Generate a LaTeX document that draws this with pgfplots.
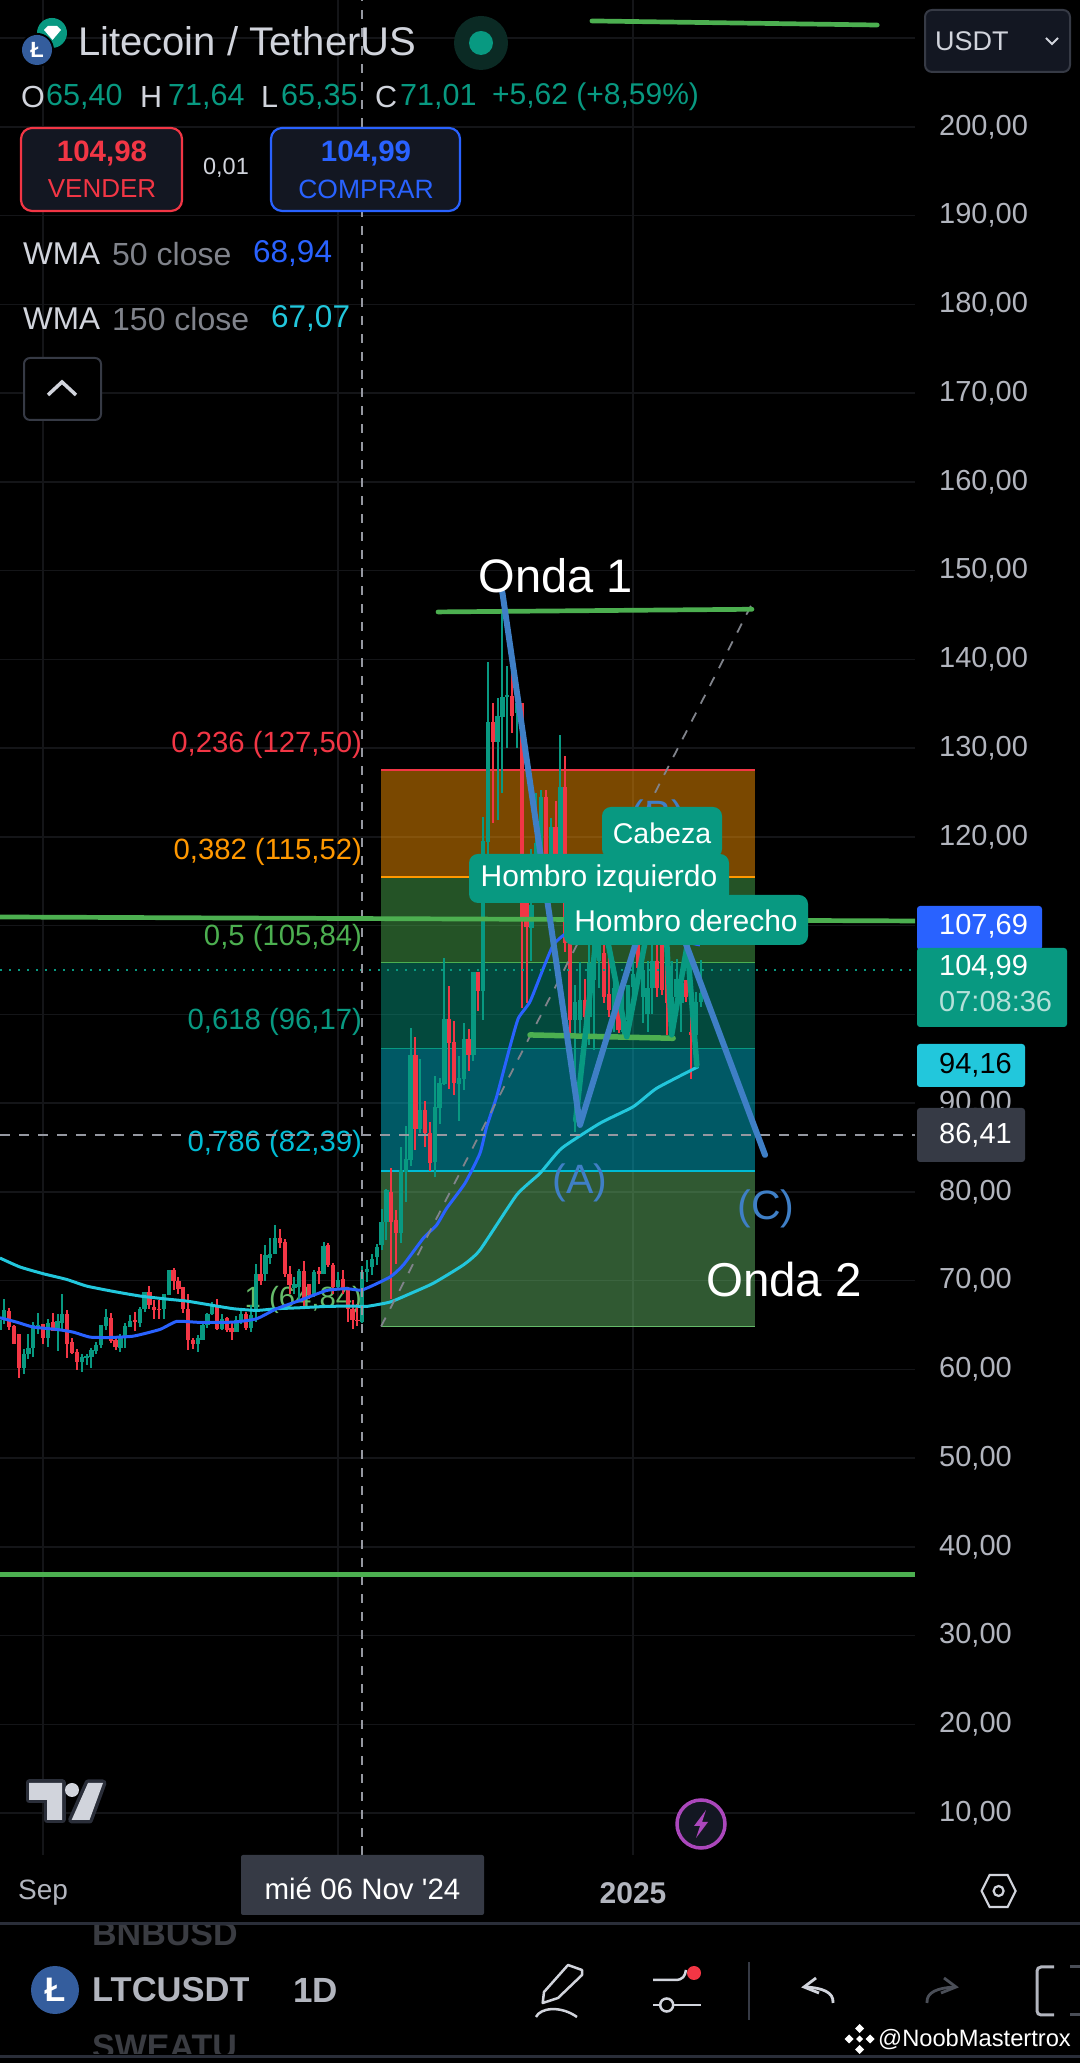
\documentclass[border=0pt]{standalone}
\usepackage{pgfplots}
\usepackage{pgfplotstable}
\usepackage{fontspec}
\setmainfont{Liberation Sans}
\newfontfamily\plainf{Liberation Sans}
\pgfplotsset{compat=1.18}
\newcommand\fs[1]{\fontsize{#1}{#1}\selectfont}
\definecolor{tvred}{HTML}{F23645}
\definecolor{tvteal}{HTML}{089981}
\definecolor{tvblue}{HTML}{2962FF}
\definecolor{tvcyan}{HTML}{22C7DC}
\definecolor{tvgrey}{HTML}{B2B5BE}
\definecolor{tvlight}{HTML}{D1D4DC}
\definecolor{tvdark}{HTML}{363A45}
\definecolor{tvpanel}{HTML}{131722}
\definecolor{tvsep}{HTML}{2A2E39}
\definecolor{gridc}{HTML}{141518}
\definecolor{wave}{HTML}{3F7FC6}
\definecolor{drawgreen}{HTML}{4CAF50}
\definecolor{fiborange}{HTML}{FF9800}
\definecolor{fibcyan}{HTML}{00BCD4}
\definecolor{fiblight}{HTML}{66BB6A}
\definecolor{ltcblue}{HTML}{345D9D}
\definecolor{halo}{HTML}{0B2A24}
\definecolor{boltc}{HTML}{AB47BC}
\definecolor{closegrey}{HTML}{80838B}
\definecolor{fadegrey}{HTML}{3A3C42}
\definecolor{dashgrey}{HTML}{9598A1}
\definecolor{trendgrey}{HTML}{80838B}
\definecolor{redogrey}{HTML}{4A4E57}

\pgfplotstableread{
d o h l c
-9 64.39 65.90 63.64 65.52
-8 65.71 67.96 65.15 66.65
-4 60.18 62.33 59.43 61.76
-3 61.69 63.94 61.20 62.44
-2 62.44 65.33 61.39 64.96
-1 64.58 66.40 64.02 65.03
1 63.57 65.71 62.51 65.22
3 64.28 66.27 62.06 65.45
4 65.22 68.53 64.47 66.20
8 60.82 61.69 59.69 61.39
9 61.31 61.69 60.45 61.54
10 61.39 62.44 60.18 62.14
11 62.06 63.08 61.69 62.70
12 62.70 64.96 62.44 64.96
13 64.84 66.76 64.39 65.90
16 62.44 64.02 61.95 63.57
17 63.57 65.22 62.44 64.84
18 64.77 66.09 64.77 65.45
20 65.22 67.03 64.77 66.84
21 66.84 68.72 66.46 68.72
25 66.84 68.53 65.71 68.53
26 68.34 71.16 68.34 71.16
32 62.81 63.83 61.95 63.57
33 63.34 65.22 63.34 64.96
34 64.96 66.35 64.69 66.27
35 66.20 67.59 66.09 67.21
37 64.58 66.20 64.47 65.71
40 64.20 65.97 64.20 65.60
41 65.60 66.65 65.07 66.20
43 64.69 67.21 64.20 66.09
44 66.46 71.91 65.33 70.79
46 70.79 73.98 69.96 72.85
47 72.59 74.84 71.91 73.04
48 73.04 76.24 73.04 74.84
52 69.21 70.41 68.45 69.66
53 69.28 71.35 67.78 71.09
56 68.34 71.24 68.15 70.97
58 70.71 74.36 70.71 73.87
61 69.28 70.97 69.09 70.11
66 65.40 71.64 65.35 71.01
67 70.97 72.29 69.84 71.35
68 71.54 73.04 70.60 72.48
69 72.66 74.17 71.72 73.79
70 73.98 78.12 73.42 76.61
71 76.61 80.37 74.54 80.18
74 75.37 85.03 74.24 82.47
75 82.28 87.43 78.90 83.67
76 83.60 98.43 82.92 95.43
78 87.05 94.94 86.60 89.23
81 83.41 93.06 81.65 89.53
82 89.50 92.80 87.65 92.24
83 92.16 106.40 92.05 99.50
86 92.16 95.32 87.99 92.80
87 92.76 98.98 91.50 97.19
89 95.43 104.82 94.79 104.82
91 102.68 122.25 99.37 119.54
92 119.47 139.67 117.80 132.91
94 130.73 135.62 121.91 133.63
95 133.55 145.20 124.99 135.73
96 135.73 139.26 130.06 135.99
98 133.93 135.05 130.06 135.05
101 109.70 118.60 106.00 112.30
102 113.50 124.90 113.00 119.30
103 113.50 125.30 113.00 124.54
105 113.50 122.10 113.00 121.08
107 114.00 131.49 113.50 125.67
110 99.37 103.30 86.79 101.36
111 99.37 105.95 97.87 101.63
113 99.75 108.00 96.50 105.76
114 103.88 112.00 96.00 108.00
115 106.00 112.00 103.00 108.00
118 100.50 106.00 98.00 103.00
120 98.00 103.30 97.50 100.00
121 99.37 103.30 97.50 103.30
122 103.13 107.60 102.00 104.60
124 102.00 109.00 99.00 105.00
125 100.00 106.00 98.00 103.00
126 103.00 109.00 100.00 106.00
130 98.00 106.00 97.70 102.00
131 102.00 106.30 101.25 104.00
132 101.25 104.44 98.00 103.50
135 97.70 102.57 97.00 101.44
136 101.44 106.13 100.80 102.40
}\greencandles

\pgfplotstableread{
d o h l c
-7 66.57 66.91 64.39 64.77
-6 64.84 64.96 62.89 62.89
-5 63.94 63.94 59.05 60.18
0 65.07 65.15 62.89 63.57
2 65.33 66.38 64.32 64.32
5 66.20 66.72 61.31 62.89
6 63.08 63.57 61.69 61.84
7 61.95 62.33 59.88 60.82
14 65.82 66.35 62.97 63.19
15 63.34 63.72 62.14 62.51
19 65.52 66.46 64.32 65.33
22 68.72 69.36 66.84 67.21
23 67.03 67.78 65.71 66.65
24 66.84 67.78 65.71 66.65
27 71.16 71.46 68.90 69.96
28 69.96 70.41 68.53 69.09
29 69.28 69.28 66.35 66.84
30 66.84 68.53 62.14 63.34
31 63.34 63.57 62.33 62.81
36 67.21 67.96 64.47 64.58
38 65.82 65.90 64.20 64.47
39 64.69 65.22 63.27 64.20
42 66.20 66.46 64.39 64.69
45 70.79 73.04 69.47 69.96
49 74.84 75.86 73.72 74.24
50 74.36 74.73 70.41 70.71
51 70.71 71.61 68.53 69.47
54 71.09 72.21 66.84 67.96
55 69.58 69.66 67.96 68.34
57 71.09 71.54 69.66 70.71
59 73.98 74.24 71.54 71.72
60 71.72 71.99 68.53 69.28
62 70.22 71.24 68.53 68.90
63 69.21 69.28 65.33 66.84
64 66.84 67.78 64.58 65.52
65 65.60 67.33 64.84 65.45
72 80.00 82.74 67.97 76.61
73 76.80 77.93 71.91 75.37
77 95.43 97.49 84.73 87.05
79 89.23 90.21 85.10 86.60
80 86.60 87.92 82.40 83.30
84 99.50 103.20 91.60 96.82
85 96.90 99.26 90.92 92.24
88 97.19 98.32 93.66 95.43
90 104.82 104.82 100.42 102.68
93 132.91 135.05 121.53 130.73
97 135.88 138.43 131.75 133.63
99 135.05 135.05 100.73 110.50
100 112.90 115.20 101.30 109.80
104 124.54 125.30 113.00 113.50
106 121.08 124.05 113.00 113.50
108 125.59 129.12 107.00 108.00
109 108.00 110.00 97.87 99.37
112 101.63 103.95 96.74 99.75
116 106.88 110.00 101.25 102.00
117 102.30 108.00 99.75 100.50
119 100.50 103.00 97.87 98.25
123 107.80 110.00 104.80 105.20
127 106.00 109.00 102.00 103.00
128 108.00 110.00 102.20 102.75
129 108.00 112.00 97.70 101.25
133 103.90 103.90 101.40 102.00
134 98.05 104.44 92.70 97.70
}\redcandles

\begin{document}
\begin{tikzpicture}
\useasboundingbox (0,0) rectangle (1080pt,2063pt);
\fill[black] (0,0) rectangle (1080pt,2063pt);
\begin{axis}[
  at={(0pt,208pt)}, anchor=south west,
  scale only axis, width=915pt, height=1855pt,
  xmin=-8.892, xmax=180.31, ymin=5.29, ymax=214.30,
  axis line style={draw=none},
  major tick length=0pt,
  grid=major, grid style={draw=gridc, line width=1.6pt},
  ytick={10,20,...,210},
  xtick={0,61,122}, xticklabels={Sep,,{\fs{30}\bfseries 2025}},
  ytick pos=right, xtick pos=bottom,
  tick label style={font=\fs{29}, text=tvgrey},
  yticklabel style={/pgf/number format/.cd, fixed, fixed zerofill, precision=2, use comma, 1000 sep={}, assume math mode=true,
     /tikz/.cd, inner sep=0pt, anchor=west, xshift=24pt},
  xticklabel style={font=\fs{28}, inner sep=0pt, anchor=center, yshift=-38pt},
  clip=true,
]
% fibonacci zones
\addplot[draw=none, fill=fiborange, fill opacity=.48] coordinates {(69.9,127.50)(147.2,127.50)(147.2,115.52)(69.9,115.52)(69.9,127.50)};
\addplot[draw=none, fill=drawgreen, fill opacity=.48] coordinates {(69.9,115.52)(147.2,115.52)(147.2,105.84)(69.9,105.84)(69.9,115.52)};
\addplot[draw=none, fill=tvteal, fill opacity=.48] coordinates {(69.9,105.84)(147.2,105.84)(147.2,96.17)(69.9,96.17)(69.9,105.84)};
\addplot[draw=none, fill=fibcyan, fill opacity=.48] coordinates {(69.9,96.17)(147.2,96.17)(147.2,82.39)(69.9,82.39)(69.9,96.17)};
\addplot[draw=none, fill=fiblight, fill opacity=.48] coordinates {(69.9,82.39)(147.2,82.39)(147.2,64.84)(69.9,64.84)(69.9,82.39)};
\addplot[tvred, line width=1.8pt] coordinates {(69.9,127.50)(147.2,127.50)};
\addplot[fiborange, line width=1.8pt] coordinates {(69.9,115.52)(147.2,115.52)};
\addplot[drawgreen, line width=1.8pt] coordinates {(69.9,105.84)(147.2,105.84)};
\addplot[tvteal, line width=1.8pt] coordinates {(69.9,96.17)(147.2,96.17)};
\addplot[fibcyan, line width=1.8pt] coordinates {(69.9,82.39)(147.2,82.39)};
\addplot[fiblight, line width=1.8pt] coordinates {(69.9,64.84)(147.2,64.84)};
% fib labels
\node[anchor=east, inner sep=0pt, text=tvred, font=\fs{29.3}] at (axis cs:66,130.36) {0,236 (127,50)};
\node[anchor=east, inner sep=0pt, text=fiborange, font=\fs{29.3}] at (axis cs:66,118.3) {0,382 (115,52)};
\node[anchor=east, inner sep=0pt, text=drawgreen, font=\fs{29.3}] at (axis cs:66,108.6) {0,5 (105,84)};
\node[anchor=east, inner sep=0pt, text=tvteal, font=\fs{29.3}] at (axis cs:66,99.15) {0,618 (96,17)};
\node[anchor=east, inner sep=0pt, text=fibcyan, font=\fs{29.3}] at (axis cs:66,85.45) {0,786 (82,39)};
\node[anchor=east, inner sep=0pt, text=fiblight, font=\fs{29.3}] at (axis cs:66,67.85) {1 (64,84)};
% candles: wicks then bodies
\addplot[draw=none, mark=none, forget plot, error bars/.cd, y dir=both, y explicit, error mark=none, error bar style={draw=tvteal, line width=2pt}]
  table[x=d, y=o, y error plus expr=\thisrow{h}-\thisrow{o}, y error minus expr=\thisrow{o}-\thisrow{l}] {\greencandles};
\addplot[draw=none, mark=none, forget plot, error bars/.cd, y dir=both, y explicit, error mark=none, error bar style={draw=tvred, line width=2pt}]
  table[x=d, y=o, y error plus expr=\thisrow{h}-\thisrow{o}, y error minus expr=\thisrow{o}-\thisrow{l}] {\redcandles};
\addplot[draw=none, mark=none, forget plot, error bars/.cd, y dir=plus, y explicit, error mark=none, error bar style={draw=tvteal, line width=4.3pt}]
  table[x=d, y=o, y error plus expr=\thisrow{c}-\thisrow{o}] {\greencandles};
\addplot[draw=none, mark=none, forget plot, error bars/.cd, y dir=minus, y explicit, error mark=none, error bar style={draw=tvred, line width=4.3pt}]
  table[x=d, y=o, y error minus expr=\thisrow{o}-\thisrow{c}] {\redcandles};
% WMA 150
\addplot[tvcyan, line width=3pt, smooth, tension=.3] coordinates {(-8.9,72.55)(-4.75,71.54)(0.07,70.78)(4.9,70.14)(9.03,69.39)(14.54,68.79)(20.06,68.27)(25.57,67.93)(29.7,67.7)(33.84,67.33)(39.36,66.84)(44.18,66.65)(48.3,66.84)(53.14,66.95)(58.66,67.1)(64.17,67.14)(66.93,67.1)(71.75,67.59)(75.89,68.53)(80.7,69.71)(86.91,71.77)(90.36,73.46)(97.94,79.66)(102.77,82.1)(107.25,84.92)(115.17,87.74)(122.07,89.61)(126.89,91.68)(135.5,94.12)};
% WMA 50
\addplot[tvblue, line width=3pt, smooth, tension=.3] coordinates {(-8.9,65.82)(-5.45,65.33)(-2,64.77)(2.83,64.51)(6.27,64.2)(9.72,63.64)(13.86,63.6)(18.68,63.75)(24.2,64.51)(27.64,65.41)(32.47,65.3)(39.36,65.33)(44.18,65.71)(48.3,66.84)(53.14,67.78)(58.66,68.9)(62.8,69.1)(66.03,68.96)(71.75,70.41)(74.5,71.77)(78.64,74.78)(81.4,76.28)(83.47,78.16)(87.26,80.98)(90.36,84.36)(91.74,87.36)(93.81,90.74)(96.56,96.37)(98.29,99.57)(100.7,101.44)(103.46,105.2)(105.52,107.83)(108.28,109.14)(115,110)(125,109)(135.85,107.83)};
% crosshair and last price
\addplot[tvteal, line width=2pt, dash pattern=on 2pt off 7pt] coordinates {(-8.892,104.99)(180.31,104.99)};
\addplot[dashgrey, line width=2pt, dash pattern=on 10pt off 9pt] coordinates {(-8.892,86.41)(180.31,86.41)};
\addplot[dashgrey, line width=2pt, dash pattern=on 9pt off 9pt] coordinates {(66,5.29)(66,214.3)};
% fib trend line
\addplot[trendgrey, line width=1.8pt, dash pattern=on 10pt off 10pt] coordinates {(69.9,64.84)(147.1,146.8)};
% drawn green lines
\addplot[drawgreen, line width=4.7pt, line cap=round] coordinates {(113.5,211.94)(172.5,211.48)};
\addplot[drawgreen, line width=4.7pt, line cap=round] coordinates {(81.68,145.35)(146.6,145.65)};
\addplot[drawgreen, line width=4.7pt] coordinates {(-8.892,110.98)(180.31,110.53)};
\addplot[drawgreen, line width=4.7pt] coordinates {(-8.892,36.87)(180.31,36.87)};
\addplot[drawgreen, line width=5.5pt, line cap=round] coordinates {(100.7,97.69)(130.3,97.31)};
% head and shoulders
\addplot[tvteal, line width=5.5pt, line join=round, line cap=round] coordinates {(110.15,88.1)(115.2,112.56)(120.7,97.49)(128,117.97)(130,97.7)(133.2,107.8)(135.2,94.3)};
% elliott wave
\addplot[wave, line width=6pt, line join=round, line cap=round] coordinates {(94.98,147.57)(111.04,87.55)(127.2,116.28)(149.3,84.17)};
% wave labels
\node[text=wave, font=\fs{41}, inner sep=0pt] at (axis cs:127.1,122) {(B)};
\node[text=wave, font=\fs{41}, inner sep=0pt] at (axis cs:111,81) {(A)};
\node[text=wave, font=\fs{41}, inner sep=0pt] at (axis cs:149.5,78.05) {(C)};
\end{axis}

\begin{scope}[yshift=2063pt, x=1pt, y=-1pt]
\tikzset{t/.style={inner sep=0pt, anchor=west}, c/.style={inner sep=0pt, anchor=center}}
% chart annotation labels
\node[c, text=white, font=\fs{47}] at (556,575.5) {Onda 1};
\node[c, text=white, font=\fs{47.5}] at (784,1280) {Onda 2};
\fill[tvteal, rounded corners=9pt] (602,807) rectangle (722,858);
\node[c, text=white, font=\fs{28.5}] at (662,833) {Cabeza};
\fill[tvteal, rounded corners=9pt] (469,854) rectangle (729,903);
\node[c, text=white, font=\fs{30}] at (599,879) {Hombro izquierdo};
\fill[tvteal, rounded corners=9pt] (564,895) rectangle (808,945);
\node[c, text=white, font=\fs{30}] at (686,921) {Hombro derecho};
% header
\fill[tvteal] (52,33) circle (15);
\fill[white] (44,30) -- (48,26) -- (57,26) -- (61,30) -- (52.5,40) -- cycle;
\fill[black] (37,50) circle (17);
\fill[ltcblue] (37,50) circle (15);
\node[c, text=white, font=\fs{22}\bfseries] at (37,50) {Ł};
\node[t, text=tvlight, font=\fs{40}] at (78,41) {Litecoin / TetherUS};
\fill[halo] (481,43) circle (27);
\fill[tvteal] (481,43) circle (12);
% OHLC
\node[t, text=tvlight, font=\fs{30.5}] at (21,97) {O};
\node[t, text=tvteal, font=\fs{30.5}] at (46,97) {65,40};
\node[t, text=tvlight, font=\fs{30.5}] at (140,97) {H};
\node[t, text=tvteal, font=\fs{30.5}] at (168,97) {71,64};
\node[t, text=tvlight, font=\fs{30.5}] at (261,97) {L};
\node[t, text=tvteal, font=\fs{30.5}] at (281,97) {65,35};
\node[t, text=tvlight, font=\fs{30.5}] at (375,97) {C};
\node[t, text=tvteal, font=\fs{30.5}] at (400,97) {71,01};
\node[t, text=tvteal, font=\fs{30}] at (492,97) {+5,62 (+8,59\%)};
% buy and sell
\draw[tvred, line width=2.2pt, fill=tvpanel, rounded corners=11pt] (21,128) rectangle (182,211);
\node[c, text=tvred, font=\fs{29.5}\bfseries] at (102,154) {104,98};
\node[c, text=tvred, font=\fs{26}] at (102,189) {VENDER};
\node[c, text=tvlight, font=\fs{23.5}] at (226,168) {0,01};
\draw[tvblue, line width=2.2pt, fill=tvpanel, rounded corners=11pt] (271,128) rectangle (460,211);
\node[c, text=tvblue, font=\fs{29.5}\bfseries] at (366,154) {104,99};
\node[c, text=tvblue, font=\fs{26.5}] at (366,189) {COMPRAR};
% legend
\node[t, text=tvlight, font=\fs{31.5}] at (23,254) {WMA};
\node[t, text=closegrey, font=\fs{32}] at (112,254) {50 close};
\node[t, text=tvblue, font=\fs{31.5}] at (253,254) {68,94};
\node[t, text=tvlight, font=\fs{31.5}] at (23,319) {WMA};
\node[t, text=closegrey, font=\fs{32}] at (112,319) {150 close};
\node[t, text=tvcyan, font=\fs{31.5}] at (271,319) {67,07};
\draw[tvdark, line width=2pt, fill=black, rounded corners=6pt] (24,358) rectangle (101,420);
\draw[tvlight, line width=3.5pt] (48,395) -- (62,382) -- (76,395);
% currency button
\draw[tvdark, line width=2pt, fill=tvpanel, rounded corners=7pt] (925,10) rectangle (1070,72);
\node[t, text=tvlight, font=\fs{27}] at (935,41) {USDT};
\draw[tvlight, line width=2pt] (1046,38) -- (1052,44) -- (1058,38);
% price tags
\fill[tvblue, rounded corners=3pt] (917,906) rectangle (1042,950);
\node[t, text=white, font=\fs{29}] at (939,926) {107,69};
\fill[tvteal, rounded corners=3pt] (917,948) rectangle (1067,1027);
\node[t, text=white, font=\fs{29}] at (939,967) {104,99};
\node[t, text=white!70!tvteal, font=\fs{29}] at (939,1002) {07:08:36};
\fill[tvcyan, rounded corners=3pt] (917,1044) rectangle (1025,1087);
\node[t, text=black, font=\fs{29}] at (939,1065) {94,16};
\fill[tvdark, rounded corners=3pt] (917,1108) rectangle (1025,1162);
\node[t, text=white, font=\fs{29}] at (939,1135) {86,41};
% tradingview logo
\begin{scope}
\tikzset{lg/.style={draw=tvsep, line width=7pt, line join=round, fill=tvlight}}
\filldraw[lg] (29,1783) -- (62,1783) -- (62,1820) -- (47,1820) -- (47,1800) -- (29,1800) -- cycle;
\filldraw[lg] (88,1783) -- (103,1783) -- (89.5,1820) -- (71.6,1820) -- cycle;
\fill[tvlight] (29,1783) -- (62,1783) -- (62,1820) -- (47,1820) -- (47,1800) -- (29,1800) -- cycle;
\fill[tvlight] (88,1783) -- (103,1783) -- (89.5,1820) -- (71.6,1820) -- cycle;
\fill[tvlight] (72,1790) circle (7);
\end{scope}
% bolt
\draw[boltc, line width=3.5pt, fill=tvpanel] (701,1824) circle (24);
\fill[boltc] (706,1810) -- (694,1826) -- (700,1826) -- (696,1838) -- (708,1822) -- (702,1822) -- cycle;
% time tooltip
\fill[tvdark, rounded corners=2pt] (241,1855) rectangle (484,1915);
\node[c, text=white, font=\plainf\fs{29.5}] at (362.5,1889) {mié 06 Nov '24};
% settings hex
\draw[tvlight, line width=2.2pt] (981.6,1891) -- (989.6,1875) -- (1007.6,1875) -- (1015.6,1891) -- (1007.6,1907) -- (989.6,1907) -- cycle;
\draw[tvlight, line width=2.2pt] (998.6,1891) circle (5);
% toolbar
\begin{scope}
\clip (85,1926) rectangle (248,2054);
\node[t, text=fadegrey, font=\fs{34}\bfseries] at (92,1934) {BNBUSD};
\node[t, text=tvgrey, font=\fs{34.5}\bfseries] at (92,1990) {LTCUSDT};
\node[t, text=fadegrey, font=\fs{34}\bfseries] at (92,2047) {SWEATU};
\end{scope}
\fill[tvsep] (0,1922.5) rectangle (1080,1925.5);
\fill[tvsep] (0,2055) rectangle (1080,2058);
\fill[ltcblue] (55,1990) circle (24);
\node[c, text=white, font=\fs{34}\bfseries] at (55,1990) {Ł};
\node[t, text=tvgrey, font=\fs{35}\bfseries] at (293,1990) {1D};
\draw[tvlight, line width=2.5pt, line join=round] (542.7,2003) -- (544,1992) -- (568,1965) -- (582,1970) -- (582,1975) -- (558,1998) -- cycle;
\draw[tvlight, line width=2.5pt] (536,2017) .. controls (540,2008) and (560,2005) .. (577,2017);
\draw[tvlight, line width=2.5pt] (653,1980) -- (675,1980) .. controls (683,1980) and (685,1976) .. (686,1970);
\fill[tvred] (694,1973) circle (7);
\draw[tvlight, line width=2.5pt] (653,2005) -- (660,2005);
\draw[tvlight, line width=2.5pt] (673,2005) -- (701,2005);
\draw[tvlight, line width=2.5pt] (666.7,2005) circle (6.5);
\draw[tvdark, line width=2pt] (748.6,1962) -- (748.6,2020);
\draw[tvlight, line width=2.8pt] (833,2003) .. controls (834,1992) and (822,1988) .. (806,1987);
\draw[tvlight, line width=2.8pt] (816,1978) -- (804,1987) -- (819,1993);
\draw[redogrey, line width=2.8pt] (927,2003) .. controls (926,1992) and (938,1988) .. (954,1987);
\draw[redogrey, line width=2.8pt] (944,1978) -- (956,1987) -- (941,1993);
\draw[tvgrey, line width=3pt, rounded corners=4pt] (1054,1967) -- (1037,1967) -- (1037,2015) -- (1054,2015);
\draw[redogrey, line width=3pt] (1070,1967) -- (1080,1967);
\draw[redogrey, line width=3pt] (1070,2015) -- (1080,2015);
% watermark
\fill[white] (859.5,2024) -- (864,2028.5) -- (859.5,2033) -- (855,2028.5) -- cycle;
\fill[white] (859.5,2045) -- (864,2049.5) -- (859.5,2054) -- (855,2049.5) -- cycle;
\fill[white] (849,2034.5) -- (853.5,2039) -- (849,2043.5) -- (844.5,2039) -- cycle;
\fill[white] (870,2034.5) -- (874.5,2039) -- (870,2043.5) -- (865.5,2039) -- cycle;
\fill[white] (859.5,2035.5) -- (863,2039) -- (859.5,2042.5) -- (856,2039) -- cycle;
\node[t, text=white, font=\fs{23.7}] at (878,2040) {@NoobMastertrox};
\end{scope}
\end{tikzpicture}
\end{document}
